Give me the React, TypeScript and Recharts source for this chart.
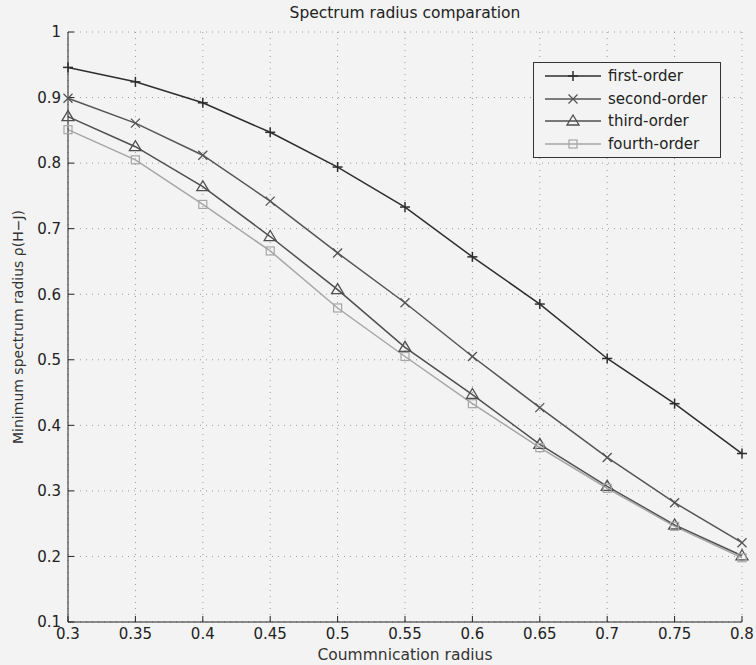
import React from 'react';
import { LineChart, Line, XAxis, YAxis, CartesianGrid, Legend } from 'recharts';

// communication radius (x)
const radius = [0.3, 0.35, 0.4, 0.45, 0.5, 0.55, 0.6, 0.65, 0.7, 0.75, 0.8];

// minimum spectrum radius per order
const firstOrder = [0.946, 0.924, 0.892, 0.847, 0.794, 0.733, 0.657, 0.585, 0.502, 0.433, 0.357];
const secondOrder = [0.899, 0.861, 0.812, 0.742, 0.663, 0.587, 0.505, 0.427, 0.351, 0.282, 0.221];
const thirdOrder = [0.871, 0.825, 0.764, 0.688, 0.607, 0.519, 0.447, 0.371, 0.307, 0.248, 0.201];
const fourthOrder = [0.851, 0.805, 0.737, 0.666, 0.579, 0.505, 0.433, 0.366, 0.304, 0.246, 0.198];

const yTicks = [0.1, 0.2, 0.3, 0.4, 0.5, 0.6, 0.7, 0.8, 0.9, 1];

const data = radius.map((r, i) => ({
  r,
  first: firstOrder[i],
  second: secondOrder[i],
  third: thirdOrder[i],
  fourth: fourthOrder[i],
}));

const FONT = '"DejaVu Sans", "Liberation Sans", Arial, sans-serif';
const BG = '#f3f3f3';

type Marker = 'plus' | 'cross' | 'triangle' | 'square';

const drawMarker = (kind: Marker, cx: number, cy: number, color: string, key?: any) => {
  if (cx == null || cy == null) return null;
  switch (kind) {
    case 'plus':
      return (
        <g key={key}>
          <line x1={cx - 5} x2={cx + 5} y1={cy} y2={cy} stroke={color} strokeWidth={1.5} />
          <line x1={cx} x2={cx} y1={cy - 5} y2={cy + 5} stroke={color} strokeWidth={1.5} />
        </g>
      );
    case 'cross':
      return (
        <g key={key}>
          <line x1={cx - 4.5} x2={cx + 4.5} y1={cy - 4.5} y2={cy + 4.5} stroke={color} strokeWidth={1.3} />
          <line x1={cx - 4.5} x2={cx + 4.5} y1={cy + 4.5} y2={cy - 4.5} stroke={color} strokeWidth={1.3} />
        </g>
      );
    case 'triangle':
      return (
        <polygon
          key={key}
          points={`${cx},${cy - 6} ${cx - 6},${cy + 4} ${cx + 6},${cy + 4}`}
          fill="none"
          stroke={color}
          strokeWidth={1.3}
        />
      );
    default:
      return (
        <rect key={key} x={cx - 4} y={cy - 4} width={8} height={8} fill="none" stroke={color} strokeWidth={1.2} />
      );
  }
};

const series: { key: string; name: string; color: string; marker: Marker }[] = [
  { key: 'first', name: 'first-order', color: '#2e2e2e', marker: 'plus' },
  { key: 'second', name: 'second-order', color: '#555555', marker: 'cross' },
  { key: 'third', name: 'third-order', color: '#4f4f4f', marker: 'triangle' },
  { key: 'fourth', name: 'fourth-order', color: '#a6a6a6', marker: 'square' },
];

const renderLegend = () => (
  <div
    style={{
      border: '1px solid #333',
      background: BG,
      width: 186,
      height: 90,
      padding: '2px 0',
      boxSizing: 'content-box',
      fontFamily: FONT,
      fontSize: 15,
      color: '#222',
    }}
  >
    {series.map((s) => (
      <div key={s.key} style={{ display: 'flex', alignItems: 'center', height: 22.5 }}>
        <svg width={70} height={20} style={{ display: 'block' }}>
          <line x1={11} x2={67} y1={10} y2={10} stroke={s.color} strokeWidth={1.5} />
          {drawMarker(s.marker, 39, 10, s.color)}
        </svg>
        <span style={{ marginLeft: 4 }}>{s.name}</span>
      </div>
    ))}
  </div>
);

const YLabel = ({ viewBox }: any) => {
  const cy = viewBox.y + viewBox.height / 2;
  return (
    <text
      x={18}
      y={cy}
      transform={`rotate(-90, 18, ${cy})`}
      textAnchor="middle"
      dominantBaseline="central"
      fontFamily={FONT}
      fontSize={14}
      fill="#333"
    >
      Minimum spectrum radius ρ(H−J)
    </text>
  );
};

const XLabel = ({ viewBox }: any) => (
  <text
    x={viewBox.x + viewBox.width / 2}
    y={viewBox.y + 38}
    textAnchor="middle"
    fontFamily={FONT}
    fontSize={15.5}
    fill="#333"
  >
    Coummnication radius
  </text>
);

const tickStyle = { fontSize: 15, fill: '#222', fontFamily: FONT };

export default function App() {
  return (
    <div style={{ position: 'absolute', left: 0, top: 0, width: 756, height: 665, background: BG }}>
      <div
        style={{
          position: 'absolute',
          left: 68,
          width: 674,
          top: 4,
          textAlign: 'center',
          fontFamily: FONT,
          fontSize: 15.5,
          color: '#222',
        }}
      >
        Spectrum radius comparation
      </div>
      <LineChart width={756} height={665} data={data} margin={{ top: 32, right: 14, bottom: 0, left: 0 }}>
        <CartesianGrid xAxisId="bottom" yAxisId="left" stroke="#9a9a9a" strokeDasharray="1 5" />
        <XAxis
          xAxisId="bottom"
          dataKey="r"
          type="number"
          domain={[0.3, 0.8]}
          ticks={radius}
          height={43}
          tickSize={-6}
          tickMargin={12}
          tick={tickStyle}
          stroke="#222"
          interval={0}
          label={<XLabel />}
        />
        <XAxis
          xAxisId="top"
          orientation="top"
          dataKey="r"
          type="number"
          domain={[0.3, 0.8]}
          ticks={radius}
          height={0}
          tickSize={-6}
          tickFormatter={() => ''}
          stroke="#222"
          interval={0}
        />
        <YAxis
          yAxisId="left"
          type="number"
          domain={[0.1, 1]}
          ticks={yTicks}
          width={68}
          tickSize={-6}
          tickMargin={13}
          tick={tickStyle}
          stroke="#222"
          interval={0}
          tickFormatter={(v: number) => String(v)}
          label={<YLabel />}
        />
        <YAxis
          yAxisId="right"
          orientation="right"
          type="number"
          domain={[0.1, 1]}
          ticks={yTicks}
          width={0}
          tickSize={-6}
          tickFormatter={() => ''}
          stroke="#222"
          interval={0}
        />
        <Legend
          content={renderLegend}
          layout="vertical"
          verticalAlign="middle"
          align="center"
          wrapperStyle={{ left: 533, top: 62, right: 'auto', bottom: 'auto', width: 'auto' }}
        />
        {series.map((s) => (
          <Line
            key={s.key}
            xAxisId="bottom"
            yAxisId="left"
            dataKey={s.key}
            name={s.name}
            stroke={s.color}
            strokeWidth={1.5}
            isAnimationActive={false}
            dot={(p: any) => drawMarker(s.marker, p.cx, p.cy, s.color, `${s.key}-${p.index}`)}
            activeDot={false}
          />
        ))}
      </LineChart>
    </div>
  );
}
